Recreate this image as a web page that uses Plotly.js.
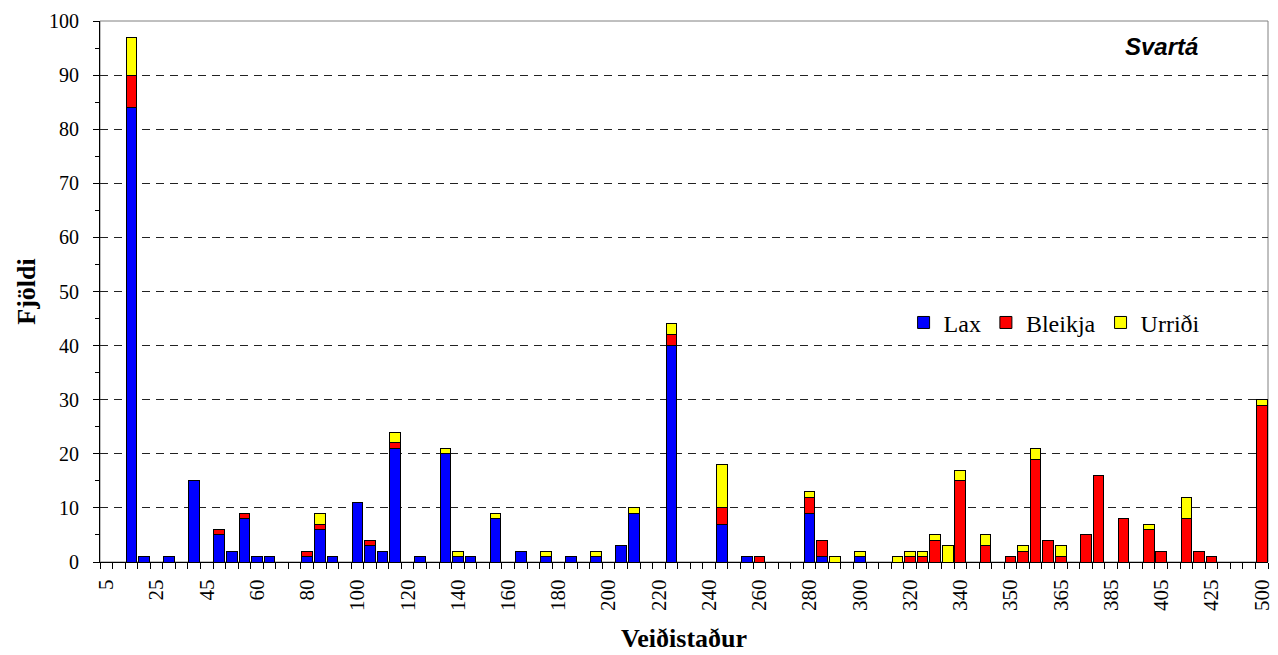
<!DOCTYPE html>
<html>
<head>
<meta charset="utf-8">
<script src="https://cdn.plot.ly/plotly-3.0.1.min.js"></script>
<style>html,body{margin:0;padding:0;background:#fff;}#chart{width:1278px;height:655px;}</style>
</head>
<body>
<div id="chart"></div>
<script>
// Veiðistaður categories (only every 4th is labelled on the axis)
const categories = ['5','10','15','20','25','30','35','40','45','50','53','55','60','65','70','75','80','85','90','95',
  '100','105','110','115','120','125','130','135','140','145','150','155','160','165','170','175','180','185','190','195',
  '200','205','210','215','220','225','230','235','240','245','250','255','260','265','270','275','280','285','290','295',
  '300','305','310','315','320','325','330','335','340','343','345','348','350','355','360','363','365','370','375','380',
  '385','390','395','400','405','410','415','420','425','430','450','475','500'];

const tickLabels = ['5','25','45','60','80','100','120','140','160','180','200','220','240','260','280','300','320','340','350','365','385','405','425','500'];

const lax = [null,null,84,1,null,1,null,15,null,5,2,8,1,1,null,null,1,6,1,null,
  11,3,2,21,null,1,null,20,1,1,null,8,null,2,null,1,null,1,null,1,
  null,3,9,null,null,40,null,null,null,7,null,1,null,null,null,null,9,1,null,null,
  1,null,null,null,null,null,null,null,null,null,null,null,null,null,null,null,null,null,null,null,
  null,null,null,null,null,null,null,null,null,null,null,null,null];

const bleikja = [null,null,6,null,null,null,null,null,null,1,null,1,null,null,null,null,1,1,null,null,
  null,1,null,1,null,null,null,null,null,null,null,null,null,null,null,null,null,null,null,null,
  null,null,null,null,null,2,null,null,null,3,null,null,1,null,null,null,3,3,null,null,
  null,null,null,null,1,1,4,null,15,null,3,null,1,2,19,4,1,null,5,16,
  null,8,null,6,2,null,8,2,1,null,null,null,29];

const urridi = [null,null,7,null,null,null,null,null,null,null,null,null,null,null,null,null,null,2,null,null,
  null,null,null,2,null,null,null,1,1,null,null,1,null,null,null,1,null,null,null,1,
  null,null,1,null,null,2,null,null,null,8,null,null,null,null,null,null,1,null,1,null,
  1,null,null,1,1,1,1,3,2,null,2,null,null,1,2,null,2,null,null,null,
  null,null,null,1,null,null,4,null,null,null,null,null,1];

const seriesNames = ['Lax','Bleikja','Urriði'];
const seriesColors = ['#0000FF','#FF0000','#FFFF00'];
const seriesValues = [lax, bleikja, urridi];

const traces = seriesValues.map((vals, k) => ({
  type: 'bar',
  name: seriesNames[k],
  x: categories,
  y: vals,
  marker: {color: seriesColors[k], line: {color: '#000000', width: 1}},
  hoverinfo: 'x+y+name'
}));

const tickText = categories.map(c => tickLabels.includes(c) ? c : '');

const serif = '"Liberation Serif", "Times New Roman", serif';

const layout = {
  width: 1278, height: 655,
  margin: {l: 100, r: 10, t: 21, b: 93},
  paper_bgcolor: '#ffffff', plot_bgcolor: '#ffffff',
  barmode: 'stack',
  bargap: 0.15,
  font: {family: serif, color: '#000000', size: 20},
  showlegend: true,
  legend: {
    orientation: 'h', x: 0.688, y: 0.442, xanchor: 'left', yanchor: 'middle',
    font: {family: serif, size: 24, color: '#000'},
    bgcolor: 'rgba(0,0,0,0)', traceorder: 'normal'
  },
  xaxis: {
    type: 'category',
    tickmode: 'array', tickvals: categories, ticktext: tickText,
    tickson: 'boundaries',
    ticks: 'outside', ticklen: 6, tickcolor: '#000', tickwidth: 1,
    tickangle: -90,
    ticklabelstandoff: 8,
    tickfont: {family: serif, size: 21, color: '#000'},
    showline: true, linecolor: '#000', linewidth: 1,
    showgrid: false, zeroline: false,
    title: {text: '<b>Veiðistaður</b>', font: {family: serif, size: 26, color: '#000'}, standoff: 18},
    fixedrange: true
  },
  yaxis: {
    range: [0, 100], dtick: 10, tick0: 0,
    ticks: 'outside', ticklen: 6, tickcolor: '#000', tickwidth: 1,
    tickfont: {family: serif, size: 20, color: '#000'},
    ticklabelstandoff: 10,
    minor: {dtick: 5, ticks: 'outside', ticklen: 4, tickcolor: '#000', showgrid: false},
    showline: true, linecolor: '#000', linewidth: 1,
    showgrid: true, gridcolor: '#222', gridwidth: 1, griddash: '8px,6px',
    zeroline: false,
    title: {text: '<b>Fjöldi</b>', font: {family: serif, size: 26, color: '#000'}, standoff: 5},
    fixedrange: true
  },
  shapes: [{
    type: 'rect', xref: 'paper', yref: 'paper', x0: 0, x1: 1, y0: 0, y1: 1,
    line: {color: '#808080', width: 1}, fillcolor: 'rgba(0,0,0,0)', layer: 'below'
  }],
  annotations: [{
    text: '<b><i>Svartá</i></b>', xref: 'paper', yref: 'paper',
    x: 0.909, y: 0.952, xanchor: 'center', yanchor: 'middle', showarrow: false,
    font: {family: '"Liberation Sans", Arial, sans-serif', size: 24, color: '#000'}
  }]
};

Plotly.newPlot('chart', traces, layout, {displayModeBar: false, staticPlot: true});
</script>
</body>
</html>
